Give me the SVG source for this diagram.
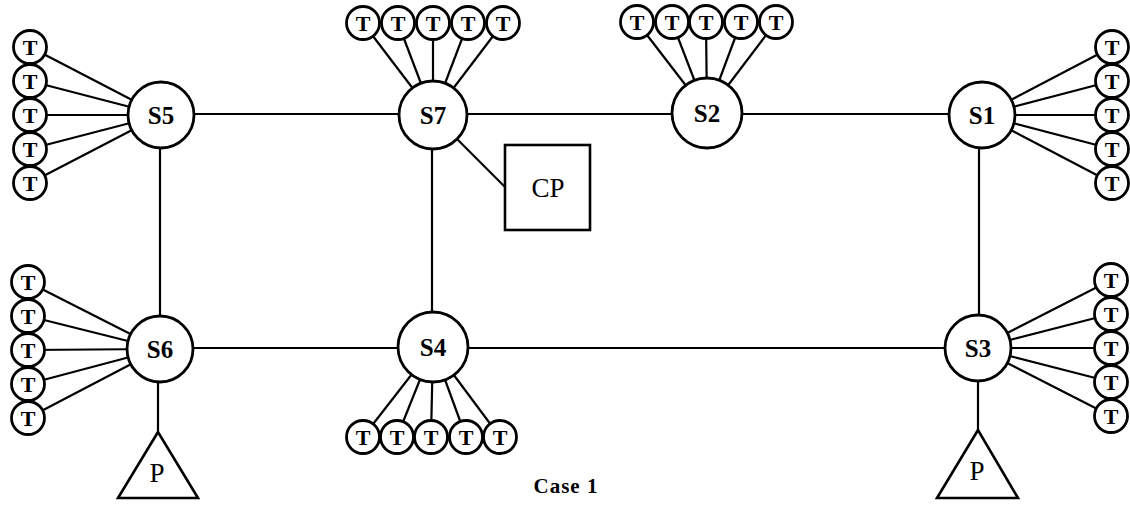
<svg xmlns="http://www.w3.org/2000/svg" width="1130" height="505" viewBox="0 0 1130 505">
<style>
.ln{stroke:#000;stroke-width:2.2;fill:none}
.sw{fill:#fff;stroke:#000;stroke-width:2.8}
.tc{fill:#fff;stroke:#000;stroke-width:2.8}
.sl{font-family:"Liberation Serif",serif;font-weight:bold;font-size:25px;text-anchor:middle;dominant-baseline:central}
.tl{font-family:"Liberation Serif",serif;font-weight:bold;font-size:22px;text-anchor:middle;dominant-baseline:central}
.pl{font-family:"Liberation Serif",serif;font-size:27px;text-anchor:middle}
</style>
<rect width="1130" height="505" fill="#fff"/>
<g id="connectors" class="ln">
<line x1="160" y1="114" x2="979" y2="114"/>
<line x1="160" y1="348" x2="979" y2="348"/>
<line x1="160" y1="114" x2="160" y2="348"/>
<line x1="432" y1="114" x2="432" y2="348"/>
<line x1="979" y1="114" x2="979" y2="348"/>
<line x1="433" y1="115" x2="505" y2="187"/>
<line x1="158" y1="348" x2="158" y2="432"/>
<line x1="978" y1="348" x2="978" y2="430"/>
<line x1="161" y1="115" x2="30" y2="47"/><line x1="161" y1="115" x2="30" y2="81"/><line x1="161" y1="115" x2="30" y2="115"/><line x1="161" y1="115" x2="30" y2="149"/><line x1="161" y1="115" x2="30" y2="183"/>
<line x1="160" y1="349" x2="28" y2="282"/><line x1="160" y1="349" x2="28" y2="316"/><line x1="160" y1="349" x2="28" y2="350"/><line x1="160" y1="349" x2="28" y2="384"/><line x1="160" y1="349" x2="28" y2="418"/>
<line x1="433" y1="115" x2="363" y2="23"/><line x1="433" y1="115" x2="398" y2="23"/><line x1="433" y1="115" x2="433" y2="23"/><line x1="433" y1="115" x2="468" y2="23"/><line x1="433" y1="115" x2="503" y2="23"/>
<line x1="707" y1="113" x2="637" y2="22"/><line x1="707" y1="113" x2="672" y2="22"/><line x1="707" y1="113" x2="706" y2="22"/><line x1="707" y1="113" x2="741" y2="22"/><line x1="707" y1="113" x2="776" y2="22"/>
<line x1="982" y1="115" x2="1112" y2="47"/><line x1="982" y1="115" x2="1112" y2="81"/><line x1="982" y1="115" x2="1112" y2="115"/><line x1="982" y1="115" x2="1112" y2="149"/><line x1="982" y1="115" x2="1112" y2="183"/>
<line x1="978" y1="348" x2="1111" y2="280"/><line x1="978" y1="348" x2="1111" y2="314"/><line x1="978" y1="348" x2="1111" y2="348"/><line x1="978" y1="348" x2="1111" y2="382"/><line x1="978" y1="348" x2="1111" y2="416"/>
<line x1="433" y1="347" x2="363" y2="437"/><line x1="433" y1="347" x2="397" y2="437"/><line x1="433" y1="347" x2="431" y2="437"/><line x1="433" y1="347" x2="466" y2="437"/><line x1="433" y1="347" x2="500" y2="437"/>
</g>
<g id="S5"><circle class="sw" cx="161" cy="115" r="33"/><text class="sl" x="161" y="115">S5</text></g>
<g id="S7"><circle class="sw" cx="433" cy="115" r="34"/><text class="sl" x="433" y="115">S7</text></g>
<g id="S2"><circle class="sw" cx="707" cy="113" r="35"/><text class="sl" x="707" y="113">S2</text></g>
<g id="S1"><circle class="sw" cx="982" cy="115" r="33"/><text class="sl" x="982" y="115">S1</text></g>
<g id="S6"><circle class="sw" cx="160" cy="349" r="33"/><text class="sl" x="160" y="349">S6</text></g>
<g id="S4"><circle class="sw" cx="433" cy="347" r="35"/><text class="sl" x="433" y="347">S4</text></g>
<g id="S3"><circle class="sw" cx="978" cy="348" r="33"/><text class="sl" x="978" y="348">S3</text></g>
<g id="CP"><rect x="505" y="145" width="85" height="85" fill="#fff" stroke="#000" stroke-width="2.6"/><text class="pl" x="548" y="197">CP</text></g>
<g id="P6"><polygon points="158,432 118,498 198,498" fill="#fff" stroke="#000" stroke-width="2.6"/><text class="pl" x="157" y="482">P</text></g>
<g id="P3"><polygon points="978,430 937,498 1018,498" fill="#fff" stroke="#000" stroke-width="2.6"/><text class="pl" x="977" y="480">P</text></g>
<g id="T_S5">
<circle class="tc" cx="30" cy="47" r="16.5"/><text class="tl" x="30" y="47">T</text>
<circle class="tc" cx="30" cy="81" r="16.5"/><text class="tl" x="30" y="81">T</text>
<circle class="tc" cx="30" cy="115" r="16.5"/><text class="tl" x="30" y="115">T</text>
<circle class="tc" cx="30" cy="149" r="16.5"/><text class="tl" x="30" y="149">T</text>
<circle class="tc" cx="30" cy="183" r="16.5"/><text class="tl" x="30" y="183">T</text>
</g>
<g id="T_S6">
<circle class="tc" cx="28" cy="282" r="16.5"/><text class="tl" x="28" y="282">T</text>
<circle class="tc" cx="28" cy="316" r="16.5"/><text class="tl" x="28" y="316">T</text>
<circle class="tc" cx="28" cy="350" r="16.5"/><text class="tl" x="28" y="350">T</text>
<circle class="tc" cx="28" cy="384" r="16.5"/><text class="tl" x="28" y="384">T</text>
<circle class="tc" cx="28" cy="418" r="16.5"/><text class="tl" x="28" y="418">T</text>
</g>
<g id="T_S7">
<circle class="tc" cx="363" cy="23" r="16.5"/><text class="tl" x="363" y="23">T</text>
<circle class="tc" cx="398" cy="23" r="16.5"/><text class="tl" x="398" y="23">T</text>
<circle class="tc" cx="433" cy="23" r="16.5"/><text class="tl" x="433" y="23">T</text>
<circle class="tc" cx="468" cy="23" r="16.5"/><text class="tl" x="468" y="23">T</text>
<circle class="tc" cx="503" cy="23" r="16.5"/><text class="tl" x="503" y="23">T</text>
</g>
<g id="T_S2">
<circle class="tc" cx="637" cy="22" r="16.5"/><text class="tl" x="637" y="22">T</text>
<circle class="tc" cx="672" cy="22" r="16.5"/><text class="tl" x="672" y="22">T</text>
<circle class="tc" cx="706" cy="22" r="16.5"/><text class="tl" x="706" y="22">T</text>
<circle class="tc" cx="741" cy="22" r="16.5"/><text class="tl" x="741" y="22">T</text>
<circle class="tc" cx="776" cy="22" r="16.5"/><text class="tl" x="776" y="22">T</text>
</g>
<g id="T_S1">
<circle class="tc" cx="1112" cy="47" r="16.5"/><text class="tl" x="1112" y="47">T</text>
<circle class="tc" cx="1112" cy="81" r="16.5"/><text class="tl" x="1112" y="81">T</text>
<circle class="tc" cx="1112" cy="115" r="16.5"/><text class="tl" x="1112" y="115">T</text>
<circle class="tc" cx="1112" cy="149" r="16.5"/><text class="tl" x="1112" y="149">T</text>
<circle class="tc" cx="1112" cy="183" r="16.5"/><text class="tl" x="1112" y="183">T</text>
</g>
<g id="T_S3">
<circle class="tc" cx="1111" cy="280" r="16.5"/><text class="tl" x="1111" y="280">T</text>
<circle class="tc" cx="1111" cy="314" r="16.5"/><text class="tl" x="1111" y="314">T</text>
<circle class="tc" cx="1111" cy="348" r="16.5"/><text class="tl" x="1111" y="348">T</text>
<circle class="tc" cx="1111" cy="382" r="16.5"/><text class="tl" x="1111" y="382">T</text>
<circle class="tc" cx="1111" cy="416" r="16.5"/><text class="tl" x="1111" y="416">T</text>
</g>
<g id="T_S4">
<circle class="tc" cx="363" cy="437" r="16.5"/><text class="tl" x="363" y="437">T</text>
<circle class="tc" cx="397" cy="437" r="16.5"/><text class="tl" x="397" y="437">T</text>
<circle class="tc" cx="431" cy="437" r="16.5"/><text class="tl" x="431" y="437">T</text>
<circle class="tc" cx="466" cy="437" r="16.5"/><text class="tl" x="466" y="437">T</text>
<circle class="tc" cx="500" cy="437" r="16.5"/><text class="tl" x="500" y="437">T</text>
</g>
<text x="566" y="493" font-family="Liberation Serif,serif" font-weight="bold" font-size="21" text-anchor="middle" letter-spacing="1">Case 1</text>
</svg>
